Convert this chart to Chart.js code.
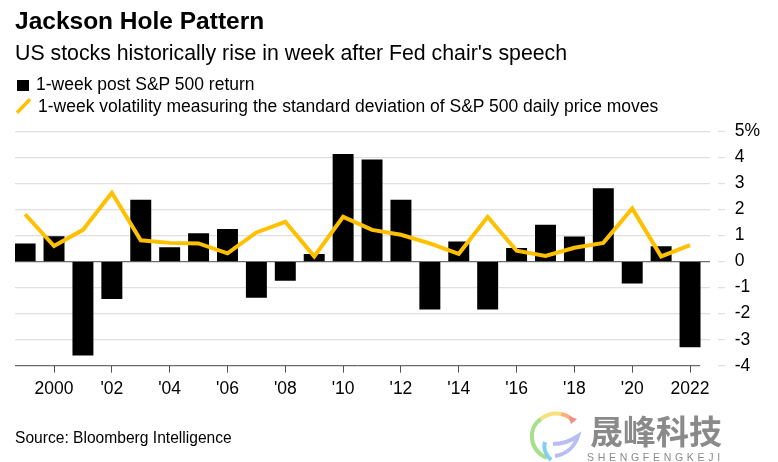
<!DOCTYPE html>
<html>
<head>
<meta charset="utf-8">
<script src="https://cdn.jsdelivr.net/npm/chart.js@4/dist/chart.umd.min.js"></script>
<style>
  html, body { margin: 0; padding: 0; background: #fff; }
  body { position: relative; width: 778px; height: 462px; overflow: hidden; font-family: "Liberation Sans", sans-serif; color: #000; }
  canvas { position: absolute; left: 0; top: 0; }
  .t { position: absolute; white-space: nowrap; line-height: 1; }
  #title { left: 15px; top: 8.8px; font-size: 24.5px; font-weight: bold; }
  #subtitle { left: 15px; top: 42.6px; font-size: 21.3px; }
  #leg1 { left: 36px; top: 75.9px; font-size: 17.5px; }
  #leg2 { left: 38px; top: 97.9px; font-size: 17.5px; }
  #source { left: 15px; top: 429.8px; font-size: 15.6px; }
  #swatch { position: absolute; left: 17px; top: 80px; width: 12px; height: 11px; background: #000; }
  #wm-cn { left: 590px; top: 414px; font: bold 33px "Noto Sans CJK SC"; color: #8a8a8a; line-height: 1; }
  #wm-en { left: 587px; top: 452px; font-size: 10.5px; letter-spacing: 3.7px; color: #8a8a8a; }
  #logo { position: absolute; left: 525px; top: 410px; }
</style>
</head>
<body>
<canvas id="chart" width="778" height="462"></canvas>
<div class="t" id="title">Jackson Hole Pattern</div>
<div class="t" id="subtitle">US stocks historically rise in week after Fed chair's speech</div>
<div id="swatch"></div>
<div class="t" id="leg1">1-week post S&amp;P 500 return</div>
<svg style="position:absolute;left:0;top:0" width="60" height="120"><line x1="17" y1="112.7" x2="30" y2="99.3" stroke="#ffc000" stroke-width="3.5"/></svg>
<div class="t" id="leg2">1-week volatility measuring the standard deviation of S&amp;P 500 daily price moves</div>
<div class="t" id="source">Source: Bloomberg Intelligence</div>
<svg id="logo" width="60" height="52" fill="none" stroke-width="4">
  <path d="M22 48 C4 40 2 18 16 9" stroke="#a6e08a"/>
  <path d="M16 9 C22 4 30 3 36 4" stroke="#f7e27a"/>
  <path d="M36 4 C42 5 46 8 48 12" stroke="#f9b27a"/>
  <path d="M44 6 L52 9 L46 14 Z" fill="#f48a8a" stroke="none"/>
  <path d="M26 50 C20 44 18 38 20 32" stroke="#7fd0f0"/>
  <path d="M30 46 C42 44 50 36 53 26 C44 32 36 34 28 34" stroke="#b9bdf7"/>
</svg>
<div class="t" id="wm-cn">晟峰科技</div>
<div class="t" id="wm-en">SHENGFENGKEJI</div>
<script>
const years = [1999, 2000, 2001, 2002, 2003, 2004, 2005, 2006, 2007, 2008, 2009, 2010, 2011, 2012, 2013, 2014, 2015, 2016, 2017, 2018, 2019, 2020, 2021, 2022];
const returns = [0.68, 0.96, -3.6, -1.42, 2.36, 0.54, 1.08, 1.24, -1.38, -0.72, 0.28, 4.12, 3.91, 2.36, -1.83, 0.76, -1.83, 0.51, 1.4, 0.95, 2.81, -0.83, 0.58, -3.28];
const volatility = [1.82, 0.6, 1.22, 2.65, 0.82, 0.72, 0.7, 0.32, 1.12, 1.53, 0.2, 1.72, 1.22, 1.03, 0.7, 0.3, 1.72, 0.42, 0.22, 0.53, 0.72, 2.04, 0.2, 0.63];
const xTicks = [2000, 2002, 2004, 2006, 2008, 2010, 2012, 2014, 2016, 2018, 2020, 2022];
const xTickLabels = ["2000", "'02", "'04", "'06", "'08", "'10", "'12", "'14", "'16", "'18", "'20", "2022"];
const yTicks = [-4, -3, -2, -1, 0, 1, 2, 3, 4, 5];
const yTickLabels = ["-4", "-3", "-2", "-1", "0", "1", "2", "3", "4", "5%"];

const GRID = "#e0e0e0";
const AXIS = "#6e6e6e";
const BAR_END = 2022.35;

// short grey ticks floating right of the grid + x baseline that stops at the last bar
const axisExtras = {
  id: "axisExtras",
  afterDraw(chart) {
    const { ctx, scales } = chart;
    ctx.save();
    ctx.strokeStyle = GRID;
    ctx.lineWidth = 1.3;
    yTicks.forEach((v) => {
      const y = scales.y.getPixelForValue(v);
      ctx.beginPath();
      ctx.moveTo(718, y);
      ctx.lineTo(725, y);
      ctx.stroke();
    });
    ctx.strokeStyle = "#444";
    ctx.lineWidth = 1;
    ctx.beginPath();
    ctx.moveTo(scales.x.left, scales.y.bottom);
    ctx.lineTo(scales.x.getPixelForValue(BAR_END), scales.y.bottom);
    ctx.stroke();
    ctx.restore();
  },
};

new Chart(document.getElementById("chart"), {
  data: {
    datasets: [
      {
        type: "line",
        label: "1-week volatility",
        data: years.map((x, i) => ({ x, y: volatility[i] })),
        borderColor: "#ffc000",
        borderWidth: 4,
        pointRadius: 0,
        tension: 0,
        order: 0,
      },
      {
        type: "bar",
        label: "1-week post S&P 500 return",
        data: years.map((x, i) => ({ x, y: returns[i] })),
        backgroundColor: "#000",
        barThickness: 20.3,
        order: 1,
      },
    ],
  },
  options: {
    responsive: false,
    animation: false,
    layout: { padding: { left: 15, top: 131.5, right: 0, bottom: 0 } },
    plugins: { legend: { display: false }, tooltip: { enabled: false } },
    scales: {
      x: {
        type: "linear",
        offset: false,
        min: 1998.65,
        max: 2022.68,
        afterBuildTicks: (s) => { s.ticks = xTicks.map((value) => ({ value })); },
        afterFit: (s) => { s.height = 462 - 365.7; },
        border: { display: false },
        grid: { offset: false, drawOnChartArea: false, drawTicks: true, tickLength: 7, tickColor: "#555", tickWidth: 1 },
        ticks: {
          autoSkip: false,
          maxRotation: 0,
          padding: 6,
          color: "#000",
          font: { family: "Liberation Sans", size: 17.5 },
          callback: (v) => xTickLabels[xTicks.indexOf(v)],
        },
      },
      y: {
        position: "right",
        min: -4,
        max: 5,
        afterBuildTicks: (s) => { s.ticks = yTicks.map((value) => ({ value })); },
        afterFit: (s) => { s.width = 778 - 709.7; },
        border: { display: false },
        grid: {
          drawTicks: false,
          lineWidth: 1.3,
          color: (c) => (c.tick.value === 0 ? AXIS : c.tick.value === -4 ? "rgba(0,0,0,0)" : GRID),
        },
        ticks: {
          padding: 25,
          crossAlign: "near",
          color: "#000",
          font: { family: "Liberation Sans", size: 17.5 },
          callback: (v) => yTickLabels[yTicks.indexOf(v)],
        },
      },
    },
  },
  plugins: [axisExtras],
});
</script>
</body>
</html>
